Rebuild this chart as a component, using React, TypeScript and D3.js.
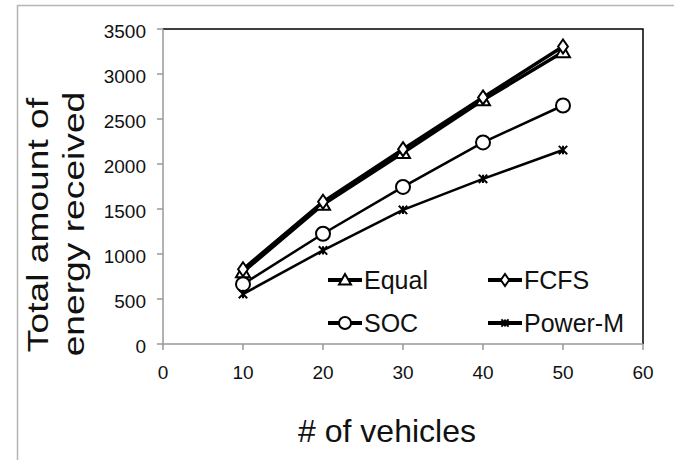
import React from "react";
import * as d3 from "d3";

const vehicles = [10, 20, 30, 40, 50];
const equal = [800, 1550, 2125, 2710, 3245];
const fcfs = [830, 1580, 2165, 2740, 3305];
const soc = [665, 1225, 1745, 2240, 2650];
const powerM = [555, 1040, 1490, 1835, 2155];
const xTicks = [0, 10, 20, 30, 40, 50, 60];
const yTicks = [0, 500, 1000, 1500, 2000, 2500, 3000, 3500];

const W = 674, H = 460;
const L = 163, R = 643, T = 29, B = 344;

const font = "Arial, 'Liberation Sans', sans-serif";

function Marker({ kind, x, y, s = 7 }: { kind: string; x: number; y: number; s?: number }) {
  if (kind === "tri") {
    return <path d={`M${x},${y - s}L${x + s},${y + s * 0.75}L${x - s},${y + s * 0.75}Z`} fill="white" stroke="black" strokeWidth={2} />;
  }
  if (kind === "dia") {
    return <path d={`M${x},${y - s}L${x + s * 0.7},${y}L${x},${y + s}L${x - s * 0.7},${y}Z`} fill="white" stroke="black" strokeWidth={2} />;
  }
  if (kind === "circ") {
    return <circle cx={x} cy={y} r={s} fill="white" stroke="black" strokeWidth={2} />;
  }
  const k = s * 0.6;
  return (
    <g stroke="black" strokeWidth={2}>
      <line x1={x - k} y1={y - k} x2={x + k} y2={y + k} />
      <line x1={x - k} y1={y + k} x2={x + k} y2={y - k} />
      <line x1={x} y1={y - k} x2={x} y2={y + k} />
    </g>
  );
}

export default function App() {
  const x = d3.scaleLinear().domain([0, 60]).range([L, R]);
  const y = d3.scaleLinear().domain([0, 3500]).range([B, T]);
  const series = [
    { name: "Equal", data: equal, kind: "tri", w: 3.5 },
    { name: "FCFS", data: fcfs, kind: "dia", w: 3.5 },
    { name: "SOC", data: soc, kind: "circ", w: 2.5 },
    { name: "Power-M", data: powerM, kind: "star", w: 2.5 },
  ];
  const line = d3.line<number>().x((_, i) => x(vehicles[i])).y((d) => y(d));
  const legendPos = [
    { lx: 328, ly: 280 },
    { lx: 488, ly: 280 },
    { lx: 328, ly: 323 },
    { lx: 488, ly: 323 },
  ];
  return (
    <svg width={W} height={H} style={{ position: "absolute", left: 0, top: 0, background: "white" }} fontFamily={font}>
      <rect x={0} y={0} width={W} height={H} fill="white" />
      <path d={`M17.5,${H}V5.5H${W}`} fill="none" stroke="#b5b5b5" strokeWidth={1.5} />
      <path d={`M${L},${T}H${R}V${B}`} fill="none" stroke="black" strokeWidth={1.5} />
      <line x1={L} y1={T} x2={L} y2={B} stroke="#999" strokeWidth={1.5} />
      <line x1={L} y1={B} x2={R} y2={B} stroke="#999" strokeWidth={1.5} />
      {yTicks.map((t) => (
        <g key={"y" + t}>
          <line x1={L - 6} x2={L} y1={y(t)} y2={y(t)} stroke="#999" strokeWidth={1.5} />
          <text x={146} y={y(t) + 2} dy="0.35em" textAnchor="end" fontSize={19} fill="#111">{t}</text>
        </g>
      ))}
      {xTicks.map((t) => (
        <g key={"x" + t}>
          <line x1={x(t)} x2={x(t)} y1={B} y2={B + 6} stroke="#999" strokeWidth={1.5} />
          <text x={x(t)} y={379} textAnchor="middle" fontSize={19} fill="#111">{t}</text>
        </g>
      ))}
      {series.map((s) => (
        <g key={s.name}>
          <path d={line(s.data) || ""} fill="none" stroke="black" strokeWidth={s.w} />
          {s.data.map((v, i) => (
            <Marker key={i} kind={s.kind} x={x(vehicles[i])} y={y(v)} />
          ))}
        </g>
      ))}
      {series.map((s, i) => {
        const p = legendPos[i];
        return (
          <g key={"lg" + s.name}>
            <line x1={p.lx} x2={p.lx + 34} y1={p.ly} y2={p.ly} stroke="black" strokeWidth={4} />
            <Marker kind={s.kind} x={p.lx + 17} y={p.ly} s={6} />
            <text x={p.lx + 36} y={p.ly + 9} fontSize={25} fill="#111">{s.name}</text>
          </g>
        );
      })}
      <text transform="translate(47.5,225) rotate(-90) scale(1.24,1)" textAnchor="middle" fontSize={30} fill="#111">Total amount of</text>
      <text transform="translate(84,224) rotate(-90) scale(1.24,1)" textAnchor="middle" fontSize={30} fill="#111">energy received</text>
      <text x={387} y={442} textAnchor="middle" fontSize={32} fill="#111"># of vehicles</text>
    </svg>
  );
}
